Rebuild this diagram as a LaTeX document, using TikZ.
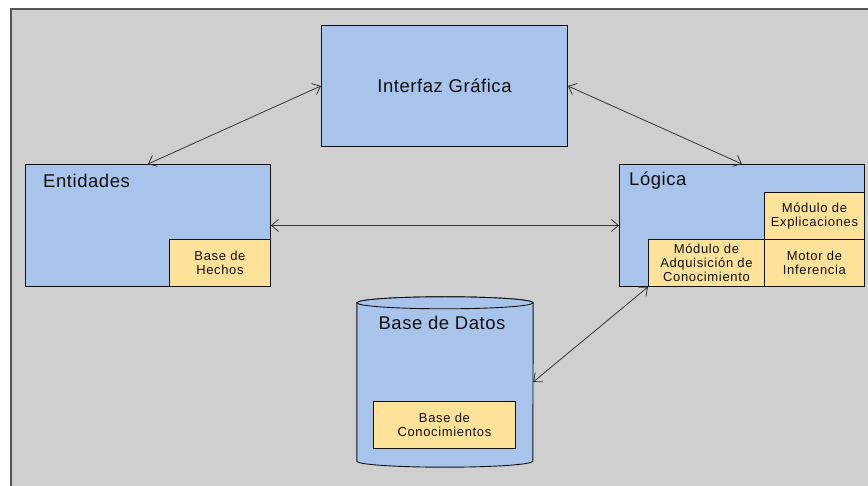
\documentclass[tikz,border=0pt]{standalone}
\usepackage{fontspec}
\setmainfont{Liberation Sans}
\newfontfamily\titlefont[LetterSpace=3]{Liberation Sans}
\newfontfamily\smallfont[LetterSpace=5]{Liberation Sans}
\usetikzlibrary{arrows.meta}
\definecolor{canvas}{HTML}{CFCFCF}
\definecolor{frameline}{HTML}{555555}
\definecolor{boxblue}{HTML}{A9C4EB}
\definecolor{boxyellow}{HTML}{FFE299}
\definecolor{ink}{HTML}{111111}
\tikzset{
  block/.style={draw=ink, line width=0.9pt, fill=boxblue, inner sep=0pt, anchor=north west},
  part/.style={draw=ink, line width=0.9pt, fill=boxyellow, inner sep=0pt, anchor=north west,
    align=center, text=ink, font=\smallfont\fontsize{13}{13.8}\selectfont},
  title/.style={inner sep=0pt, text=ink, font=\titlefont\fontsize{18.5}{20}\selectfont},
  link/.style={draw=ink!85, line width=0.8pt,
    {Straight Barb[length=7pt,width=12pt,line width=0.8pt]}-{Straight Barb[length=7pt,width=12pt,line width=0.8pt]}}
}
\begin{document}
\begin{tikzpicture}[x=1pt,y=-1pt]
\useasboundingbox (0,0) rectangle (868,486);
% canvas
\fill[white] (0,0) rectangle (868,486);
\draw[frameline, line width=2pt, fill=canvas] (11,9) rectangle (880,500);

% graphical interface
\node[block, minimum width=246pt, minimum height=121pt] (gui) at (321,25) {};
\node[title] at (gui.center) {Interfaz Gráfica};

% entities
\node[block, minimum width=245pt, minimum height=122pt] (ent) at (25,164) {};
\node[title, anchor=west] at (43,181) {Entidades};
\node[part, minimum width=101pt, minimum height=47pt] (hechos) at (169,239) {Base de\\Hechos};

% logic
\node[block, minimum width=245pt, minimum height=122pt] (log) at (619,164) {};
\node[title, anchor=west] at (629,181) {Lógica};
\node[part, minimum width=100pt, minimum height=47pt] (expl) at (764,192) {Módulo de\\Explicaciones};
\node[part, minimum width=100pt, minimum height=47pt] (motor) at (764,239) {Motor de\\Inferencia};
\node[part, minimum width=116pt, minimum height=47pt] (adq) at (648,239) {Módulo de\\Adquisición de\\Conocimiento};

% database cylinder
\node[minimum width=176pt, minimum height=158pt, inner sep=0pt] (db) at (445,382) {};
\draw[ink, line width=0.9pt, fill=boxblue]
  (db.north west) -- (db.south west)
  arc[start angle=180, end angle=360, x radius=88pt, y radius=6pt]
  -- (db.north east)
  arc[start angle=0, end angle=180, x radius=88pt, y radius=6pt] -- cycle;
\draw[ink, line width=0.9pt, fill=boxblue]
  (db.north) ellipse[x radius=88pt, y radius=6pt];
\node[title] at (442,323) {Base de Datos};
\node[part, minimum width=142pt, minimum height=47pt] (conoc) at (373,401) {Base de\\Conocimientos};

% connectors
\draw[link] (gui.west) -- (ent.north);
\draw[link] (gui.east) -- (log.north);
\draw[link] (ent.east) -- (log.west);
\draw[link] (adq.south west) -- (db.east);
\end{tikzpicture}
\end{document}
